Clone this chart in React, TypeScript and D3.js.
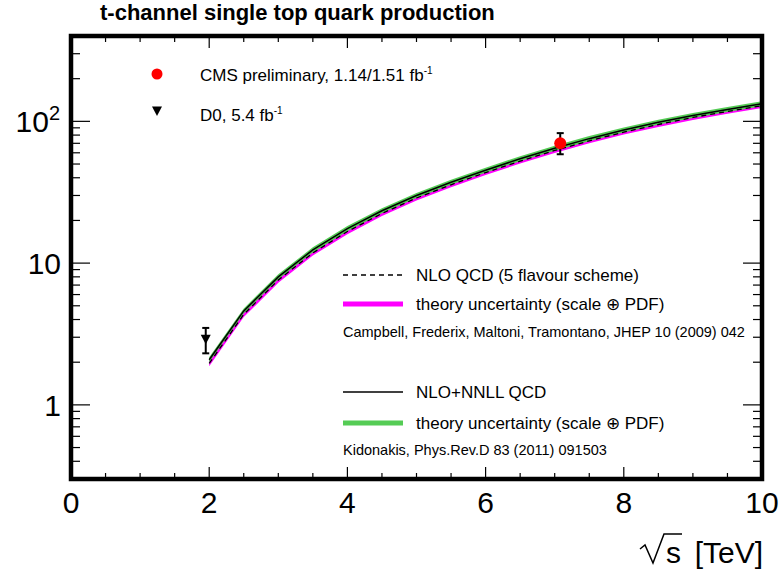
import React from "react";
import * as d3 from "d3";

const energies = [2, 2.5, 3, 3.5, 4, 4.5, 5, 5.5, 6, 6.5, 7, 7.5, 8, 8.5, 9, 9.5, 10];
const nnllCentral = [2.08, 4.6, 8.0, 12.4, 17.5, 23.4, 30.0, 37.2, 45.2, 54.5, 64.6, 75.5, 87.0, 98.5, 110, 121, 133];
const nnllHi = [2.17, 4.79, 8.34, 12.92, 18.24, 24.38, 31.26, 38.76, 47.1, 56.79, 67.31, 78.67, 90.65, 102.6, 114.6, 126.1, 138.6];
const nnllLo = [2.0, 4.42, 7.68, 11.9, 16.8, 22.46, 28.8, 35.71, 43.39, 52.32, 62.02, 72.48, 83.52, 94.56, 105.6, 116.2, 127.7];
const nloCentral = [1.96, 4.35, 7.6, 11.8, 16.7, 22.4, 28.8, 35.7, 43.5, 52.4, 62.3, 72.8, 84.0, 95.0, 106.5, 117.5, 129];
const nloHi = [2.04, 4.52, 7.9, 12.25, 17.35, 23.25, 29.9, 37.1, 45.2, 54.4, 64.7, 75.6, 87.2, 98.6, 110.5, 122, 133.9];
const nloLo = [1.87, 4.16, 7.28, 11.3, 16.0, 21.5, 27.7, 34.3, 41.8, 50.4, 59.9, 70.0, 80.8, 91.4, 102.4, 113, 124.1];

// measurements: [sqrt(s), value, errLow, errHigh]
const cmsPoint = [7.08, 70.2, 11.6, 12.4];
const d0Point = [1.95, 2.9, 0.59, 0.59];

const xMajorTicks = [0, 2, 4, 6, 8, 10];
const xMinorTicks = [0.5, 1, 1.5, 2.5, 3, 3.5, 4.5, 5, 5.5, 6.5, 7, 7.5, 8.5, 9, 9.5];
const yMajorTicks = [1, 10, 100];
const yMinorTicks = [0.3, 0.4, 0.5, 0.6, 0.7, 0.8, 0.9, 2, 3, 4, 5, 6, 7, 8, 9, 20, 30, 40, 50, 60, 70, 80, 90, 200, 300];

const titleText = "t-channel single top quark production";

export default function App() {
  const W = 783, H = 571;
  const L = 71, R = 762, T = 36, B = 479;
  const x = d3.scaleLinear().domain([0, 10]).range([L, R]);
  const y = d3.scaleLog().domain([0.3, 400]).range([B, T]);

  const idx = energies.map((_, i) => i);
  const areaNnll = d3.area<number>().x(i => x(energies[i])).y0(i => y(nnllLo[i])).y1(i => y(nnllHi[i]));
  const areaNlo = d3.area<number>().x(i => x(energies[i])).y0(i => y(nloLo[i])).y1(i => y(nloHi[i]));
  const lineNnll = d3.line<number>().x(i => x(energies[i])).y(i => y(nnllCentral[i]));
  const lineNlo = d3.line<number>().x(i => x(energies[i])).y(i => y(nloCentral[i]));

  const font = "Liberation Sans, Arial, Helvetica, sans-serif";

  const errBar = (p: number[], key: string) => {
    const cx = x(p[0]);
    const y1 = y(p[1] + p[3]);
    const y2 = y(p[1] - p[2]);
    return (
      <g key={key} stroke="#000" strokeWidth={2}>
        <line x1={cx} x2={cx} y1={y1} y2={y2} />
        <line x1={cx - 3.5} x2={cx + 3.5} y1={y1} y2={y1} />
        <line x1={cx - 3.5} x2={cx + 3.5} y1={y2} y2={y2} />
      </g>
    );
  };

  const tri = (cx: number, cy: number) =>
    `M${cx - 5},${cy - 4.5}L${cx + 5},${cy - 4.5}L${cx},${cy + 5}Z`;

  return (
    <svg width={W} height={H} style={{ position: "absolute", left: 0, top: 0 }} fontFamily={font}>
      <rect x={0} y={0} width={W} height={H} fill="#fff" />
      <defs>
        <clipPath id="plotClip">
          <rect x={L} y={T} width={R - L} height={B - T} />
        </clipPath>
      </defs>
      <text x={100} y={20} fontSize={22} fontWeight="bold">{titleText}</text>

      <g clipPath="url(#plotClip)">
        <path d={areaNlo(idx) || ""} fill="#ff00ff" />
        <path d={areaNnll(idx) || ""} fill="#55cc55" />
        <path d={lineNlo(idx) || ""} fill="none" stroke="#000" strokeWidth={1.3} strokeDasharray="5,4" />
        <path d={lineNnll(idx) || ""} fill="none" stroke="#000" strokeWidth={1.5} />
      </g>

      {/* data points */}
      {errBar(d0Point, "d0e")}
      <path d={tri(x(d0Point[0]), y(d0Point[1]))} fill="#000" />
      {errBar(cmsPoint, "cmse")}
      <circle cx={x(cmsPoint[0])} cy={y(cmsPoint[1])} r={6} fill="#ff0000" />

      {/* ticks */}
      <g stroke="#000" strokeWidth={1.2}>
        {xMajorTicks.map(t => (
          <g key={"xm" + t}>
            <line x1={x(t)} x2={x(t)} y1={B} y2={B - 12} />
            <line x1={x(t)} x2={x(t)} y1={T} y2={T + 12} />
          </g>
        ))}
        {xMinorTicks.map(t => (
          <g key={"xn" + t}>
            <line x1={x(t)} x2={x(t)} y1={B} y2={B - 6} />
            <line x1={x(t)} x2={x(t)} y1={T} y2={T + 6} />
          </g>
        ))}
        {yMajorTicks.map(t => (
          <g key={"ym" + t}>
            <line x1={L} x2={L + 19} y1={y(t)} y2={y(t)} />
            <line x1={R} x2={R - 19} y1={y(t)} y2={y(t)} />
          </g>
        ))}
        {yMinorTicks.map(t => (
          <g key={"yn" + t}>
            <line x1={L} x2={L + 9} y1={y(t)} y2={y(t)} />
            <line x1={R} x2={R - 9} y1={y(t)} y2={y(t)} />
          </g>
        ))}
      </g>

      {/* frame */}
      <rect x={L} y={T} width={R - L} height={B - T} fill="none" stroke="#000" strokeWidth={4.5} />

      {/* tick labels */}
      {xMajorTicks.map(t => (
        <text key={"xl" + t} x={x(t)} y={513} fontSize={30} textAnchor="middle">{t}</text>
      ))}
      <text x={60} y={y(100) + 11} fontSize={30} textAnchor="end">
        10<tspan fontSize={20} dy={-12}>2</tspan>
      </text>
      <text x={61} y={y(10) + 11} fontSize={30} textAnchor="end">10</text>
      <text x={61} y={y(1) + 11} fontSize={30} textAnchor="end">1</text>

      {/* axis title: sqrt(s) [TeV] */}
      <path d="M640,549 L645,545 L653,563 L664,534 L682,534" fill="none" stroke="#000" strokeWidth={1.5} />
      <text x={666} y={563} fontSize={30}>s</text>
      <text x={763} y={563} fontSize={30} textAnchor="end">[TeV]</text>

      {/* top legend */}
      <circle cx={157} cy={74} r={5.5} fill="#ff0000" />
      <text x={200} y={81} fontSize={17}>
        CMS preliminary, 1.14/1.51 fb<tspan fontSize={10} dy={-7}>-1</tspan>
      </text>
      <path d={tri(157, 111)} fill="#000" />
      <text x={200} y={121} fontSize={17}>
        D0, 5.4 fb<tspan fontSize={10} dy={-7}>-1</tspan>
      </text>

      {/* lower legend */}
      <line x1={343} x2={403} y1={275} y2={275} stroke="#000" strokeWidth={1.3} strokeDasharray="5,4" />
      <text x={416} y={281} fontSize={17}>NLO QCD (5 flavour scheme)</text>
      <line x1={343} x2={403} y1={304} y2={304} stroke="#ff00ff" strokeWidth={5} />
      <text x={416} y={310} fontSize={17}>theory uncertainty (scale ⊕ PDF)</text>
      <text x={343} y={337} fontSize={14.5}>Campbell, Frederix, Maltoni, Tramontano, JHEP 10 (2009) 042</text>

      <line x1={343} x2={403} y1={392} y2={392} stroke="#000" strokeWidth={1.5} />
      <text x={416} y={398} fontSize={17}>NLO+NNLL QCD</text>
      <line x1={343} x2={403} y1={423} y2={423} stroke="#55cc55" strokeWidth={5} />
      <text x={416} y={429} fontSize={17}>theory uncertainty (scale ⊕ PDF)</text>
      <text x={343} y={455} fontSize={14.5}>Kidonakis, Phys.Rev.D 83 (2011) 091503</text>
    </svg>
  );
}
